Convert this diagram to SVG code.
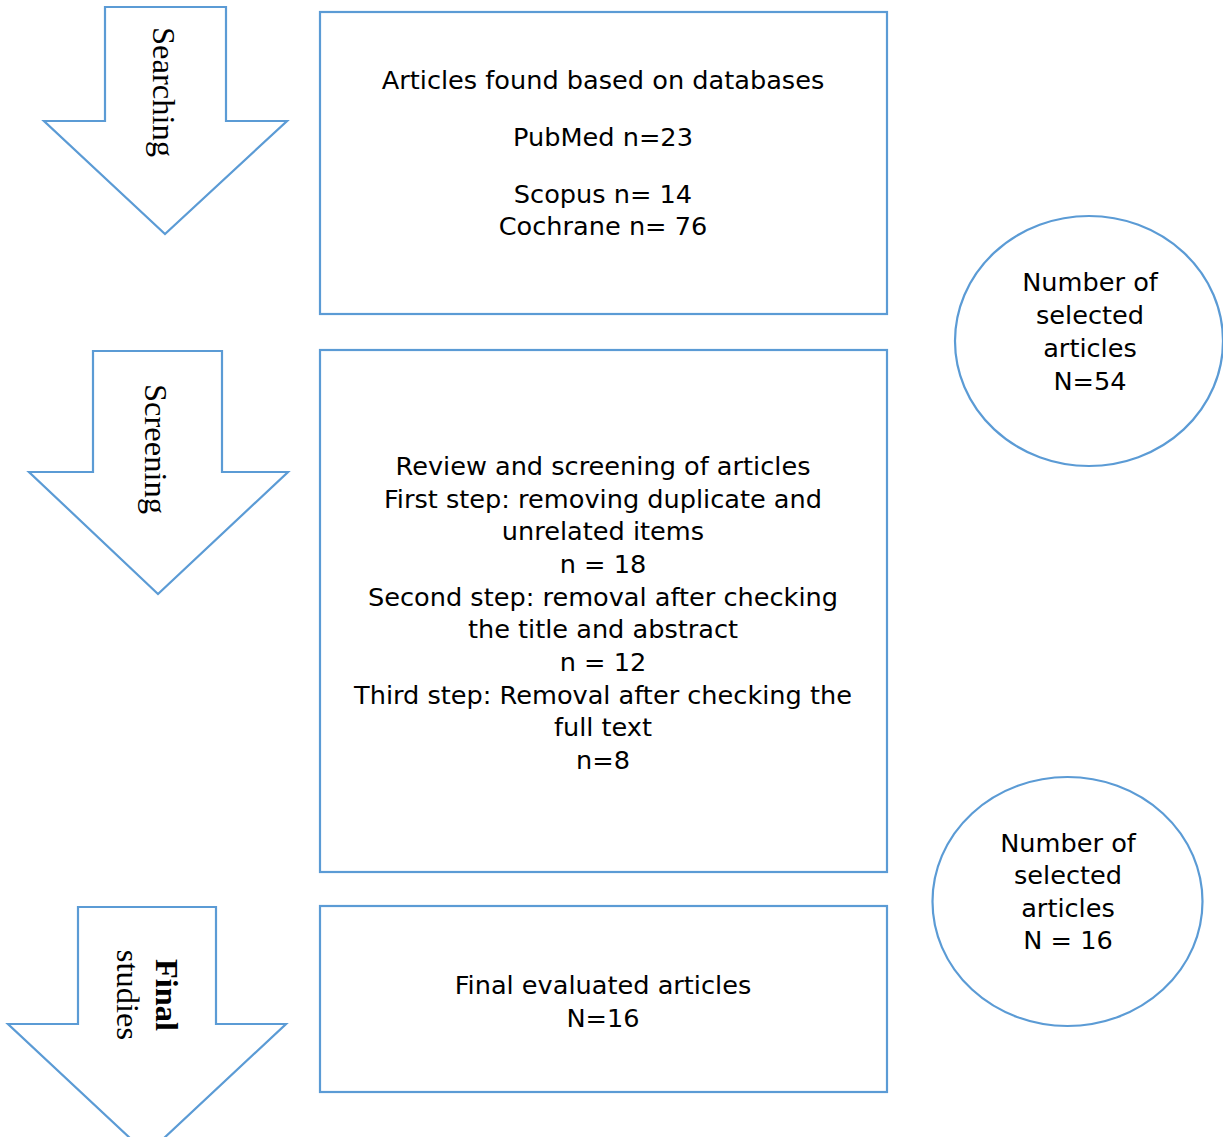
<svg xmlns="http://www.w3.org/2000/svg" width="1223" height="1137" viewBox="0 0 1223 1137">
<style>
.shape{fill:#ffffff;stroke:#5B9BD5;stroke-width:2.2}
.t{font-family:"DejaVu Sans","Liberation Sans",sans-serif;font-size:25.6px;fill:#000;text-anchor:middle}
.v{font-family:"Liberation Serif","Times New Roman",serif;font-size:32.5px;fill:#000;text-anchor:middle}
</style>
<rect width="1223" height="1137" fill="#ffffff"/>
<g id="arrow-searching">
<polygon class="shape" points="105,7 226,7 226,121 287,121 165,234 44,121 105,121"/>
<text class="v" transform="translate(164,92) rotate(90)" dy="0.33em">Searching</text>
</g>
<g id="arrow-screening">
<polygon class="shape" points="93,351 222,351 222,472 288,472 158,594 29,472 93,472"/>
<text class="v" transform="translate(156,449) rotate(90)" dy="0.33em">Screening</text>
</g>
<g id="arrow-final">
<polygon class="shape" points="78,907 216,907 216,1024 286,1024 147,1154 8,1024 78,1024"/>
<text class="v" transform="translate(167,995) rotate(90)" dy="0.33em" font-weight="bold">Final</text>
<text class="v" transform="translate(128,995) rotate(90)" dy="0.33em">studies</text>
</g>
<g id="box-databases">
<rect class="shape" x="320" y="12" width="567" height="302"/>
<text class="t" x="603" y="89">Articles found based on databases</text>
<text class="t" x="603" y="146">PubMed n=23</text>
<text class="t" x="603" y="203">Scopus n= 14</text>
<text class="t" x="603" y="235">Cochrane n= 76</text>
</g>
<g id="box-screening">
<rect class="shape" x="320" y="350" width="567" height="522"/>
<text class="t" x="603" y="475">Review and screening of articles</text>
<text class="t" x="603" y="508">First step: removing duplicate and</text>
<text class="t" x="603" y="540">unrelated items</text>
<text class="t" x="603" y="573">n = 18</text>
<text class="t" x="603" y="606">Second step: removal after checking</text>
<text class="t" x="603" y="638">the title and abstract</text>
<text class="t" x="603" y="671">n = 12</text>
<text class="t" x="603" y="704">Third step: Removal after checking the</text>
<text class="t" x="603" y="736">full text</text>
<text class="t" x="603" y="769">n=8</text>
</g>
<g id="box-final">
<rect class="shape" x="320" y="906" width="567" height="186"/>
<text class="t" x="603" y="994">Final evaluated articles</text>
<text class="t" x="603" y="1027">N=16</text>
</g>
<g id="circle-54">
<ellipse class="shape" cx="1089" cy="341" rx="134" ry="125"/>
<text class="t" x="1090" y="291">Number of</text>
<text class="t" x="1090" y="324">selected</text>
<text class="t" x="1090" y="357">articles</text>
<text class="t" x="1090" y="390">N=54</text>
</g>
<g id="circle-16">
<ellipse class="shape" cx="1067.5" cy="901.5" rx="135" ry="124.5"/>
<text class="t" x="1068" y="852">Number of</text>
<text class="t" x="1068" y="884">selected</text>
<text class="t" x="1068" y="917">articles</text>
<text class="t" x="1068" y="949">N = 16</text>
</g>
<g id="connectors"/>
</svg>
